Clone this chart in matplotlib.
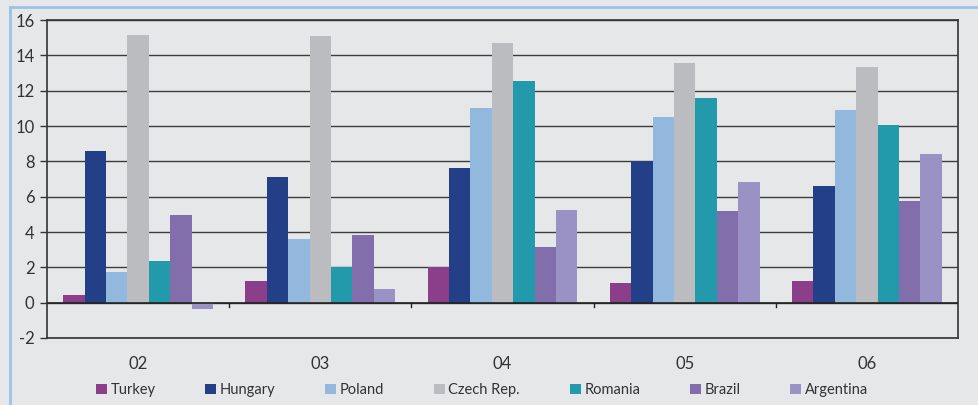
import matplotlib
matplotlib.use("Agg")
import matplotlib.pyplot as plt
import numpy as np

years = ["02", "03", "04", "05", "06"]
countries = ["Turkey", "Hungary", "Poland", "Czech Rep.", "Romania", "Brazil", "Argentina"]

turkey = [0.45, 1.2, 2.04, 1.13, 1.2]
hungary = [8.56, 7.13, 7.64, 8.04, 6.62]
poland = [1.72, 3.62, 11.04, 10.53, 10.92]
czech = [15.13, 15.11, 14.71, 13.58, 13.36]
romania = [2.38, 2.0, 12.56, 11.6, 10.07]
brazil = [4.94, 3.85, 3.17, 5.21, 5.77]
argentina = [-0.38, 0.75, 5.26, 6.85, 8.43]

series = [turkey, hungary, poland, czech, romania, brazil, argentina]
colors = ["#8b3f8a", "#233f88", "#93b8dd", "#bbbcbf", "#229aab", "#836eac", "#9a92c5"]

bg = "#e6e7e9"
plt.rcParams["font.family"] = ["Lato", "DejaVu Sans"]
plt.rcParams["axes.unicode_minus"] = False

fig = plt.figure(figsize=(9.79, 4.05), dpi=100, facecolor=bg)
ax = fig.add_axes([47 / 979, 1 - 338 / 405, (958 - 47) / 979, (338 - 20) / 405])
ax.set_facecolor(bg)

n = len(series)
width = 0.1175
centers = np.arange(len(years)) + 0.5
for i, (vals, col, name) in enumerate(zip(series, colors, countries)):
    offs = (i - (n - 1) / 2) * width
    ax.bar(centers + offs, vals, width=width, color=col, label=name, zorder=3, linewidth=0)

ax.set_xlim(0, len(years))
ax.set_ylim(-2, 16)
ax.set_yticks(np.arange(-2, 17, 2))
ax.yaxis.grid(True, color="#3c3c3c", linewidth=1.0, zorder=1)
ax.tick_params(axis="y", length=5, width=1, color="#333333", labelsize=12, labelcolor="#333333", pad=4)

ax.set_xticks(centers)
ax.set_xticklabels(years)
ax.tick_params(axis="x", length=0, labelsize=12, labelcolor="#333333", pad=13)

# zero line with group separators
ax.axhline(0, color="#222222", linewidth=1.2, zorder=4)
for b in range(1, len(years)):
    ax.plot([b, b], [0, -0.25], color="#222222", linewidth=1, zorder=4, clip_on=False)

for s in ["left", "right", "bottom", "top"]:
    ax.spines[s].set_color("#333333")
    ax.spines[s].set_linewidth(1.2)

leg = fig.legend(loc="center", bbox_to_anchor=(482 / 979, 1 - 390 / 405), ncol=7,
                 frameon=False, fontsize=10.5, handlelength=0.75, handleheight=0.75,
                 handletextpad=0.25, columnspacing=3.4, labelcolor="#333333")

# panel border on top and left
fig.add_artist(plt.Line2D([10 / 979, 1], [1 - 6.5 / 405, 1 - 6.5 / 405], color="#9dc3e6",
                          linewidth=2, transform=fig.transFigure))
fig.add_artist(plt.Line2D([10 / 979, 10 / 979], [0, 1 - 6.5 / 405], color="#9dc3e6",
                          linewidth=2, transform=fig.transFigure))

fig.savefig("out.png", dpi=100, facecolor=bg)
